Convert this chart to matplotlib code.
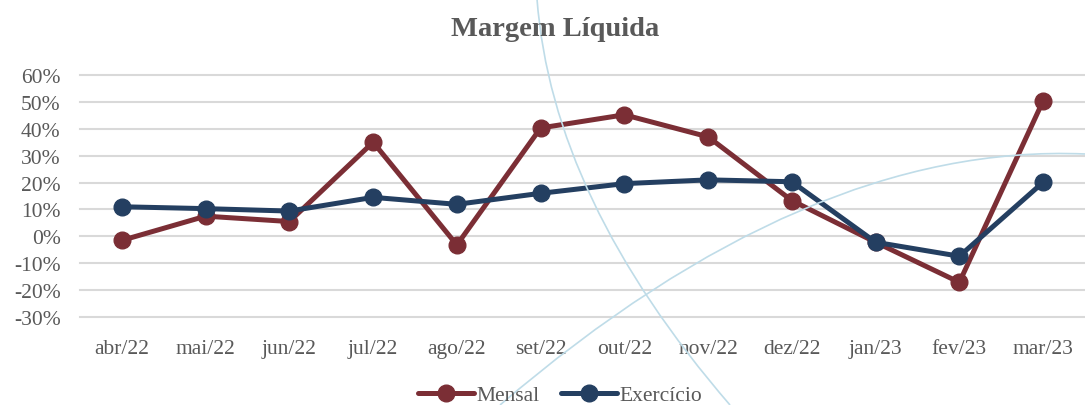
import matplotlib
matplotlib.use("Agg")
import matplotlib.pyplot as plt
from matplotlib.path import Path
from matplotlib.patches import PathPatch
from matplotlib.ticker import FuncFormatter

meses = ["abr/22", "mai/22", "jun/22", "jul/22", "ago/22", "set/22",
         "out/22", "nov/22", "dez/22", "jan/23", "fev/23", "mar/23"]
mensal = [-1.5, 7.5, 5.5, 35, -3.2, 40.3, 45.2, 37, 13.3, -2.2, -17.1, 50.4]
exercicio = [11.0, 10.3, 9.4, 14.5, 11.9, 16.0, 19.6, 21.0, 20.3, -2.2, -7.4, 20.1]
y_ticks = [-30, -20, -10, 0, 10, 20, 30, 40, 50, 60]

COR_MENSAL = "#7B2E35"
COR_EXERC = "#243F61"
COR_TEXTO = "#595959"
FONTE = "Liberation Serif"

plt.rcParams["font.family"] = [FONTE, "DejaVu Serif"]

fig = plt.figure(figsize=(10.85, 4.06), dpi=100)

# decorative watermark arcs in the background
W, H = 1085.0, 406.0
def fig_pt(x, y):
    return (x / W, 1 - y / H)

for p0, c, p2 in [((537, 0), (552, 200), (730, 406)),
                  ((500, 406), (807, 143), (1085, 155))]:
    path = Path([fig_pt(*p0), fig_pt(*c), fig_pt(*p2)],
                [Path.MOVETO, Path.CURVE3, Path.CURVE3])
    fig.patches.append(PathPatch(path, transform=fig.transFigure,
                                 facecolor="none", edgecolor="#BFDCE8",
                                 lw=1.2, zorder=0))

ax = fig.add_axes([80 / W, 1 - 318 / H, 1005 / W, (318 - 76) / H])
ax.patch.set_alpha(0)

x = list(range(len(meses)))
ax.plot(x, mensal, color=COR_MENSAL, lw=3.6, marker="o", ms=12,
        label="Mensal", zorder=3, solid_capstyle="round")
ax.plot(x, exercicio, color=COR_EXERC, lw=3.6, marker="o", ms=12,
        label="Exercício", zorder=4, solid_capstyle="round")

ax.set_ylim(-30, 60)
ax.set_xlim(-0.5, 11.5)
ax.set_yticks(y_ticks)
ax.yaxis.set_major_formatter(FuncFormatter(lambda v, _: f"{v:.0f}%"))
ax.set_xticks(x)
ax.set_xticklabels(meses)
ax.grid(axis="y", color="#D9D9D9", lw=1.5, clip_on=False)
ax.set_axisbelow(True)
for s in ax.spines.values():
    s.set_visible(False)
ax.tick_params(length=0, labelsize=15.5, labelcolor=COR_TEXTO)
ax.tick_params(axis="x", pad=16)
ax.tick_params(axis="y", pad=14)
for lab in ax.get_xticklabels() + ax.get_yticklabels():
    lab.set_fontfamily(FONTE)

fig.text(555 / W, 1 - 29 / H, "Margem Líquida", ha="center", va="center",
         fontsize=20.5, fontweight="bold", color=COR_TEXTO, fontfamily=FONTE)

leg = fig.legend(loc="center", bbox_to_anchor=(560 / W, 1 - 396 / H),
                 ncol=2, frameon=False, fontsize=15.5, handlelength=2.6,
                 columnspacing=1.0, handletextpad=0.1)
for t in leg.get_texts():
    t.set_color(COR_TEXTO)

fig.savefig("out.png", dpi=100)
